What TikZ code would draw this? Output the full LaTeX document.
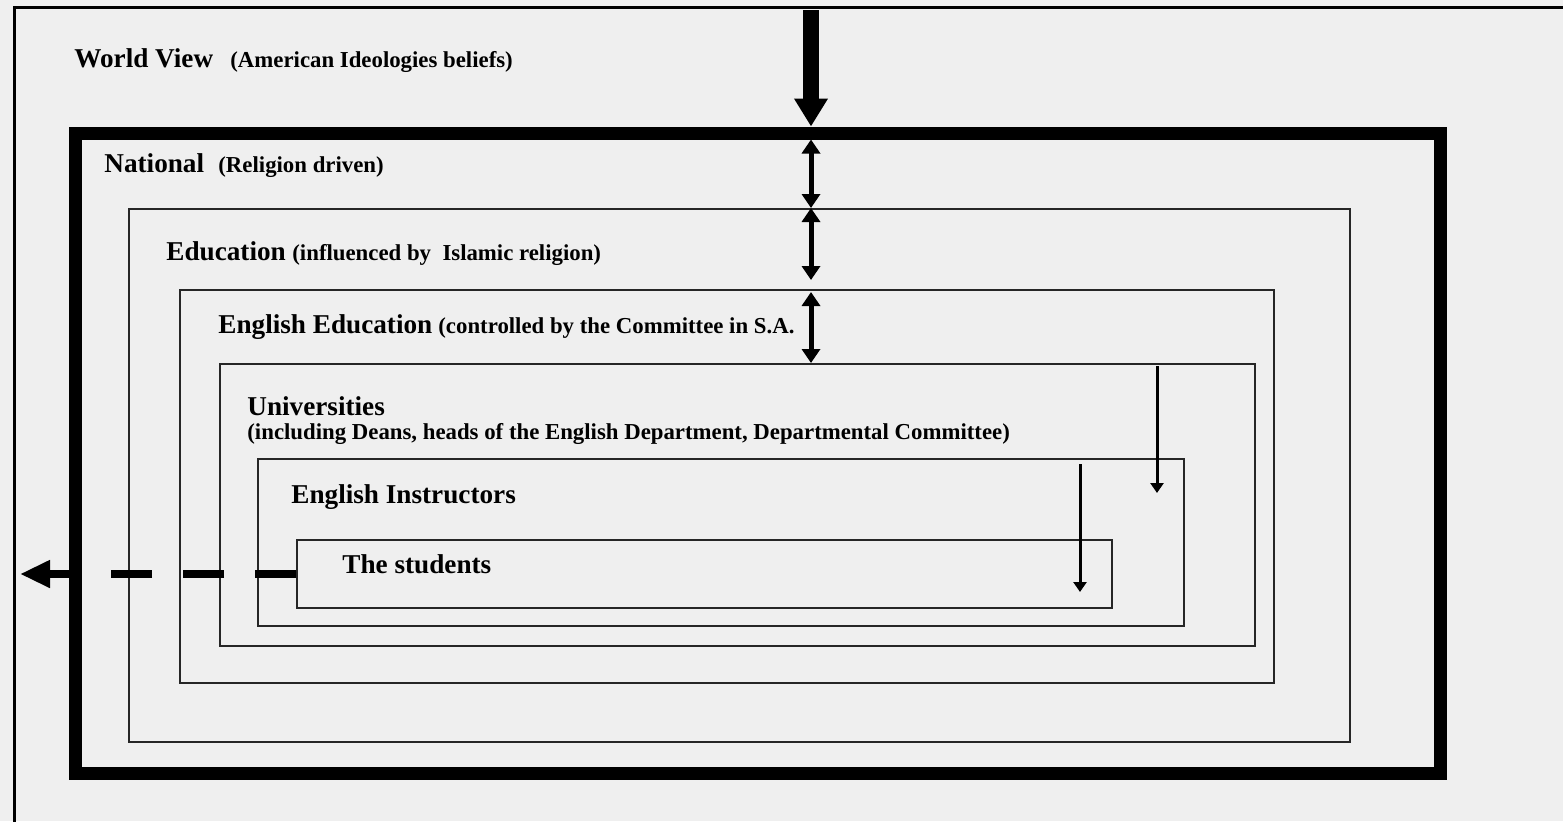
\documentclass[tikz,border=0pt]{standalone}
\usepackage{fontspec}
\setmainfont{Liberation Serif}
\usetikzlibrary{arrows.meta}
\definecolor{bg}{HTML}{EFEFEF}
\begin{document}
\begin{tikzpicture}[x=0.5pt,y=-0.5pt,
  box/.style={draw=black!85,line width=1pt,inner sep=0pt,minimum width=#1},
  ttl/.style={anchor=base west,inner sep=0pt,font=\fontsize{13.6}{15}\selectfont\bfseries},
  sub/.style={anchor=base west,inner sep=0pt,font=\fontsize{11.4}{13}\selectfont\bfseries},
  bigarrow/.style={line width=8pt,-{Triangle[width=16pt,length=14pt]}},
  dblarrow/.style={line width=2.5pt,{Triangle[width=9pt,length=7pt]}-{Triangle[width=9pt,length=7pt]}},
  thinarrow/.style={line width=1.5pt,-{Triangle[width=6.5pt,length=5pt]}},
  outarrow/.style={line width=4pt,-{Triangle[width=13pt,length=15pt]}},
  dashline/.style={line width=4pt,dash pattern=on 20.5pt off 15.5pt}]
\useasboundingbox (0,0) rectangle (1563,821);
\clip (0,0) rectangle (1563,821);
\fill[bg] (0,0) rectangle (1563,821);
% boxes
\node[box=803pt,minimum height=426.5pt,line width=1.5pt,draw=black] (world) at (817,433.5) {};
\node[box=682.5pt,minimum height=320pt,line width=6.5pt,draw=black] (national) at (757.5,453) {};
\node[box=610.5pt,minimum height=266.5pt] (education) at (739.5,475.5) {};
\node[box=547pt,minimum height=196.5pt] (engedu) at (727,486.5) {};
\node[box=517.5pt,minimum height=141pt] (univ) at (737.5,505) {};
\node[box=463pt,minimum height=83.5pt] (instr) at (721,542.5) {};
\node[box=407.5pt,minimum height=34pt] (students) at (704.5,574) {};
% texts
\node[ttl] (t1) at (74,67) {World View};
\node[sub] (s1) at (230,67) {(American Ideologies beliefs)};
\node[ttl] (t2) at (104,172) {National};
\node[sub] (s2) at (218,172) {(Religion driven)};
\node[ttl] (t3) at (166,260) {Education};
\node[sub] (s3) at (292,260) {(influenced by\ \ Islamic religion)};
\node[ttl] (t4) at (218,333) {English Education};
\node[sub] (s4) at (438,333) {(controlled by the Committee in S.A.};
\node[ttl] (t5) at (247,415) {Universities};
\node[sub] (s5) at (247,439) {(including Deans, heads of the English Department, Departmental Committee)};
\node[ttl] (t6) at (291,503) {English Instructors};
\node[ttl] (t7) at (342,573) {The students};
% arrows
\coordinate (ax) at (811,10);
\coordinate (a1) at (1157,493);
\coordinate (a2) at (1080,592);
\coordinate (lt) at (20,574);
\draw[bigarrow] (ax) -- (ax |- national.north);
\draw[dblarrow] ([yshift=-6.5pt]national.north -| ax) -- (education.north -| ax);
\draw[dblarrow,shorten >=4.5pt] (education.north -| ax) -- (engedu.north -| ax);
\draw[dblarrow,shorten <=1.5pt] (engedu.north -| ax) -- (univ.north -| ax);
\draw[thinarrow,shorten <=1.5pt] (univ.north -| a1) -- (a1);
\draw[thinarrow,shorten <=3pt] (instr.north -| a2) -- (a2);
\draw[dashline] (students.west) -- ([xshift=-6.5pt]national.west |- students.west);
\draw[outarrow] ([xshift=-3pt]national.west |- students.west) -- (lt);
\end{tikzpicture}
\end{document}
